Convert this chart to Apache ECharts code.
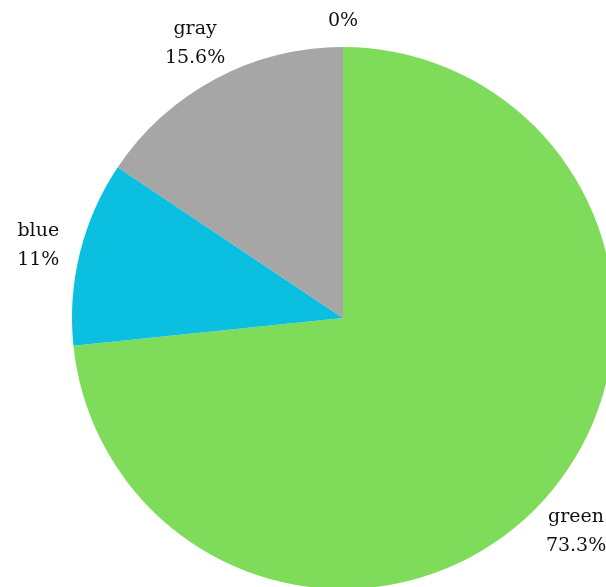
<!DOCTYPE html>
<html>
<head>
<meta charset="utf-8">
<script src="https://cdn.jsdelivr.net/npm/echarts@6/dist/echarts.min.js"></script>
<style>
  html, body { margin: 0; padding: 0; background: #ffffff; }
  #chart { width: 606px; height: 587px; }
</style>
</head>
<body>
<div id="chart"></div>
<script>
const categories = ['green', 'blue', 'gray', ''];
const percentValues = [73.3, 11, 15.6, 0];
const sliceColors = ['#7fdb5a', '#0bbfe0', '#a6a6a6', '#ffffff'];

const pieData = categories.map((name, i) => ({
  name: name,
  value: percentValues[i],
  itemStyle: { color: sliceColors[i] }
}));

const labelData = categories.map((name, i) => ({
  name: name,
  value: percentValues[i]
}));

const chart = echarts.init(document.getElementById('chart'), null, { renderer: 'canvas' });
chart.setOption({
  backgroundColor: '#ffffff',
  animation: false,
  series: [
    {
      type: 'pie',
      center: [343, 318],
      radius: [0, 271],
      startAngle: 90,
      clockwise: true,
      data: pieData,
      label: { show: false },
      labelLine: { show: false },
      emphasis: { disabled: true },
      silent: true
    },
    {
      type: 'pie',
      center: [343, 321],
      radius: [286, 336],
      startAngle: 90,
      clockwise: true,
      data: labelData,
      itemStyle: { color: 'rgba(0,0,0,0)' },
      label: {
        show: true,
        position: 'inside',
        formatter: p => p.name + '\n' + p.value + '%',
        fontFamily: 'DejaVu Serif',
        fontSize: 19,
        lineHeight: 29,
        color: '#111111',
        align: 'center'
      },
      labelLine: { show: false },
      emphasis: { disabled: true },
      silent: true
    }
  ]
});
</script>
</body>
</html>
